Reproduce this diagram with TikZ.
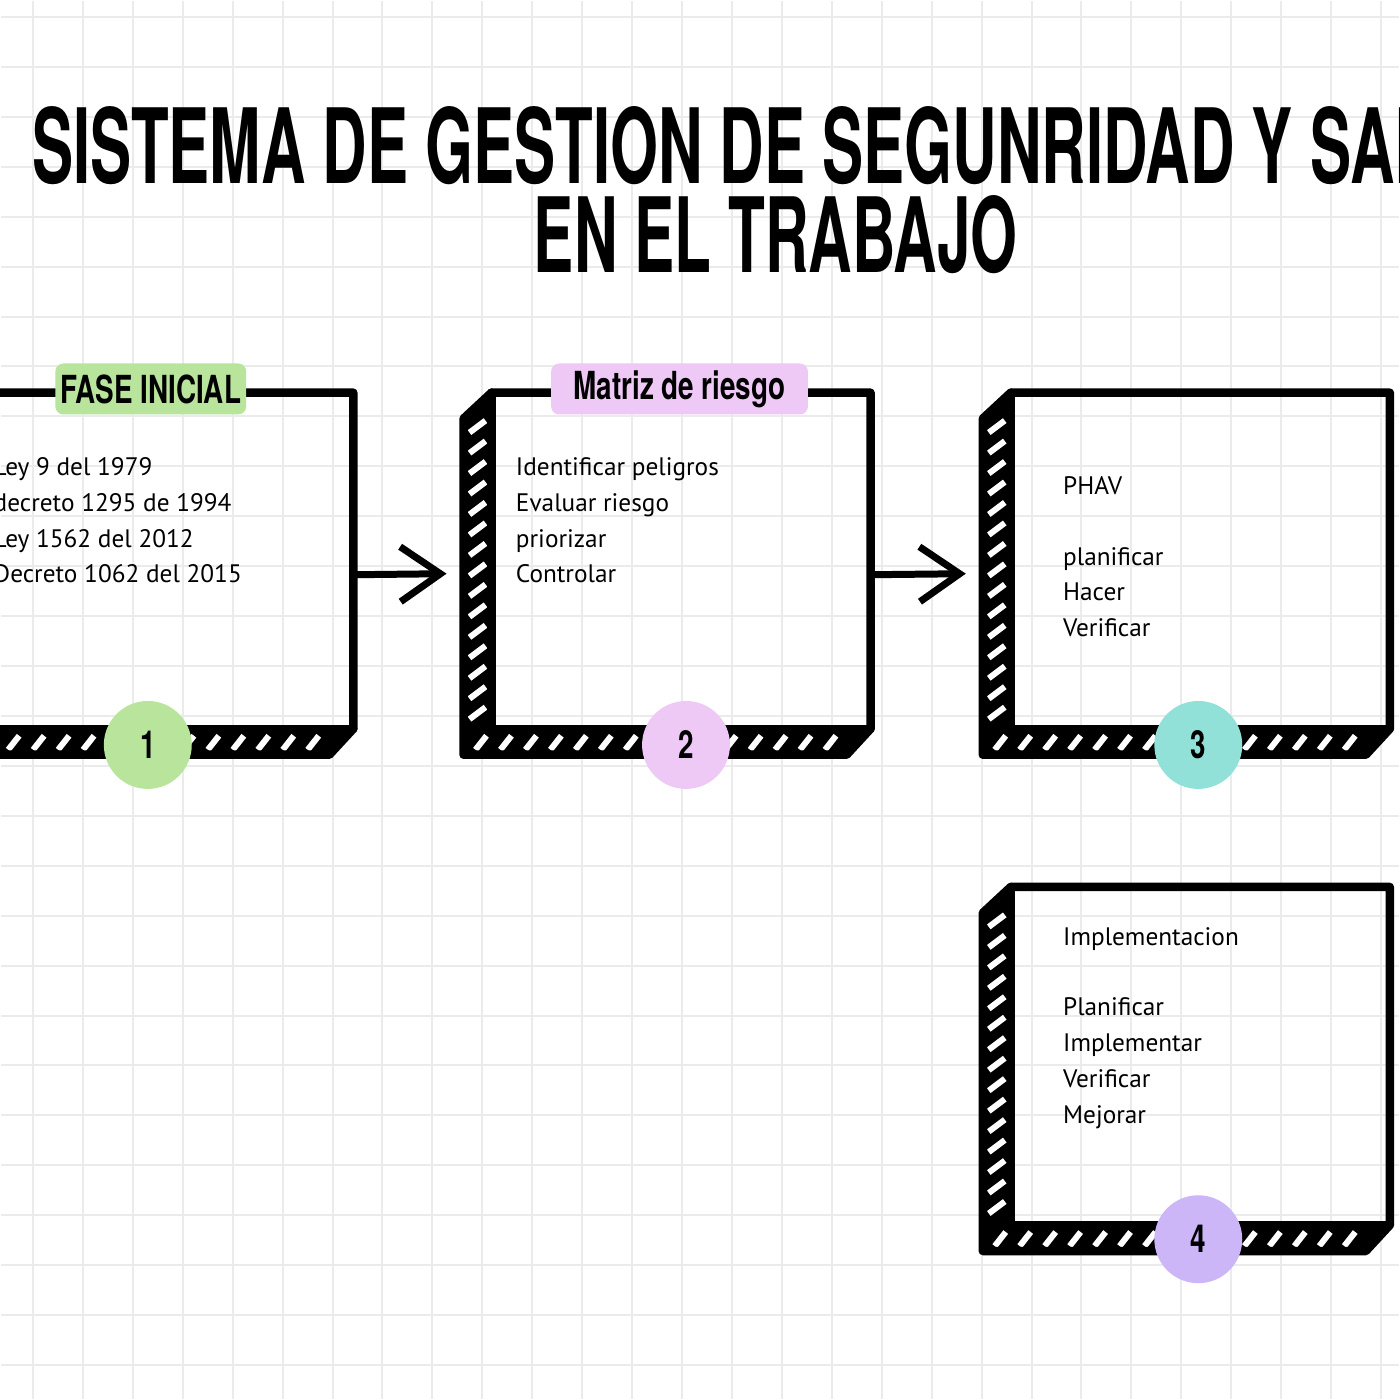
\documentclass[tikz,border=0pt]{standalone}
\usepackage{fontspec}
\usetikzlibrary{arrows.meta,calc,positioning}
\setmainfont{PT Sans}
\newfontfamily\titlefont[FakeStretch=0.593]{TeX Gyre Heros}
\newfontfamily\subtitlefont[FakeStretch=0.58]{TeX Gyre Heros}
\newfontfamily\tabfont[FakeStretch=0.72]{TeX Gyre Heros}

\definecolor{gridgray}{HTML}{EBEBEB}
\definecolor{tabgreen}{HTML}{B8E49C}
\definecolor{tabpink}{HTML}{EEC9F6}
\definecolor{dotteal}{HTML}{91E1D9}
\definecolor{dotlila}{HTML}{CDB6F8}

\tikzset{
  face/.style={minimum width=3.78cm, minimum height=3.35cm, inner sep=0pt},
  boxline/.style={line width=0.085cm, line join=round, line cap=round},
  hatch/.style={white, line width=0.06cm},
  titletext/.style={anchor=base, inner sep=0pt},
  tab/.style={rounded corners=0.08cm, minimum height=0.51cm, inner sep=0pt, font=\tabfont\bfseries\fontsize{11}{11}\selectfont},
  dot/.style={circle, minimum size=0.88cm, inner sep=0pt, font=\tabfont\bfseries\fontsize{11}{11}\selectfont},
  item/.style={anchor=base west, inner sep=0pt, font=\fontsize{7.2}{9}\selectfont},
  flecha/.style={line width=0.07cm, line cap=round, -{Straight Barb[length=0.4cm,width=0.55cm]}},
}

% caja con canto rayado a la izquierda y abajo
\newcommand\hatchbox[1]{%
  \fill (#1.north west) -- ($(#1.north west)+(-28,26)$) -- ($(#1.south west)+(-28,26)$)
    -- ($(#1.south east)+(-24,26)$) -- (#1.south east) -- (#1.south west) -- cycle;
  \foreach \k in {0,...,14}
    \draw[hatch] ($(#1.north west)+(-22,40+20.5*\k)$) -- ++(16,-12);
  \foreach \k in {0,...,14}
    \draw[hatch] ($(#1.south west)+(-16+25*\k,21)$) -- ++(11,-14);
  \draw[boxline] ($(#1.north west)+(-28,26)$) -- (#1.north west) -- (#1.north east) -- (#1.south east)
    -- ($(#1.south east)+(-24,26)$) -- ($(#1.south west)+(-28,26)$) -- cycle;
  \draw[boxline] (#1.north west) -- (#1.south west) -- (#1.south east);
}

\begin{document}
\begin{tikzpicture}[x=0.01cm, y=-0.01cm]
    % Fondo y cuadricula
    \fill[white] (0,0) rectangle (1400,1400);
    \foreach \i in {0,...,27} {
        \draw[gridgray, line width=0.02cm] (32+50*\i,0) -- (32+50*\i,1400);
        \draw[gridgray, line width=0.02cm] (0,16+50*\i) -- (1400,16+50*\i);
    }
    \useasboundingbox (0,0) rectangle (1400,1400);

    % Titulo
    \node[titletext, font=\titlefont\bfseries\fontsize{29.6}{30}\selectfont] (titulo) at (776,183) {SISTEMA DE GESTION DE SEGUNRIDAD Y SALUD};
    \node[titletext, font=\subtitlefont\bfseries\fontsize{29.6}{30}\selectfont] (titulo2) at (776,272) {EN EL TRABAJO};

    % Cajas
    \node[face] (b1) at (163,560.5) {};
    \node[face] (b2) at (681,560.5) {};
    \node[face] (b3) at (1201,560.5) {};
    \node[face, minimum height=3.37cm] (b4) at (1201,1056.5) {};
    \hatchbox{b1}
    \hatchbox{b2}
    \hatchbox{b3}
    \hatchbox{b4}

    % Flechas
    \draw[flecha] ($(b1.east)+(4,14)$) -- ($(b2.west)+(-45,13)$);
    \draw[flecha] ($(b2.east)+(4,14)$) -- ($(b3.west)+(-45,13)$);

    % Etiquetas
    \node[tab, fill=tabgreen, minimum width=1.91cm] (t1) at (150,388.5) {FASE INICIAL};
    \node[tab, fill=tabpink, minimum width=2.57cm] (t2) at (679.5,388.5) {Matriz de riesgo};

    % Numeros
    \node[dot, fill=tabgreen] (n1) at (147,745) {1};
    \node[dot, fill=tabpink] (n2) at (686,745) {2};
    \node[dot, fill=dotteal] (n3) at (1199,745) {3};
    \node[dot, fill=dotlila] (n4) at (1199,1240) {4};

    % Textos
    \foreach \t/\y [count=\i] in {Ley 9 del 1979/475, decreto 1295 de 1994/511, Ley 1562 del 2012/547, Decreto 1062 del 2015/582}
        \node[item] (l1-\i) at (-8,\y) {\t};
    \foreach \t/\y [count=\i] in {Identificar peligros/475, Evaluar riesgo/511, priorizar/547, Controlar/582}
        \node[item] (l2-\i) at (515,\y) {\t};
    \foreach \t/\y [count=\i] in {PHAV/494, planificar/565, Hacer/600, Verificar/636}
        \node[item] (l3-\i) at (1063,\y) {\t};
    \foreach \t/\y [count=\i] in {Implementacion/946, Planificar/1016, Implementar/1052, Verificar/1088, Mejorar/1124}
        \node[item] (l4-\i) at (1063,\y) {\t};
\end{tikzpicture}
\end{document}
